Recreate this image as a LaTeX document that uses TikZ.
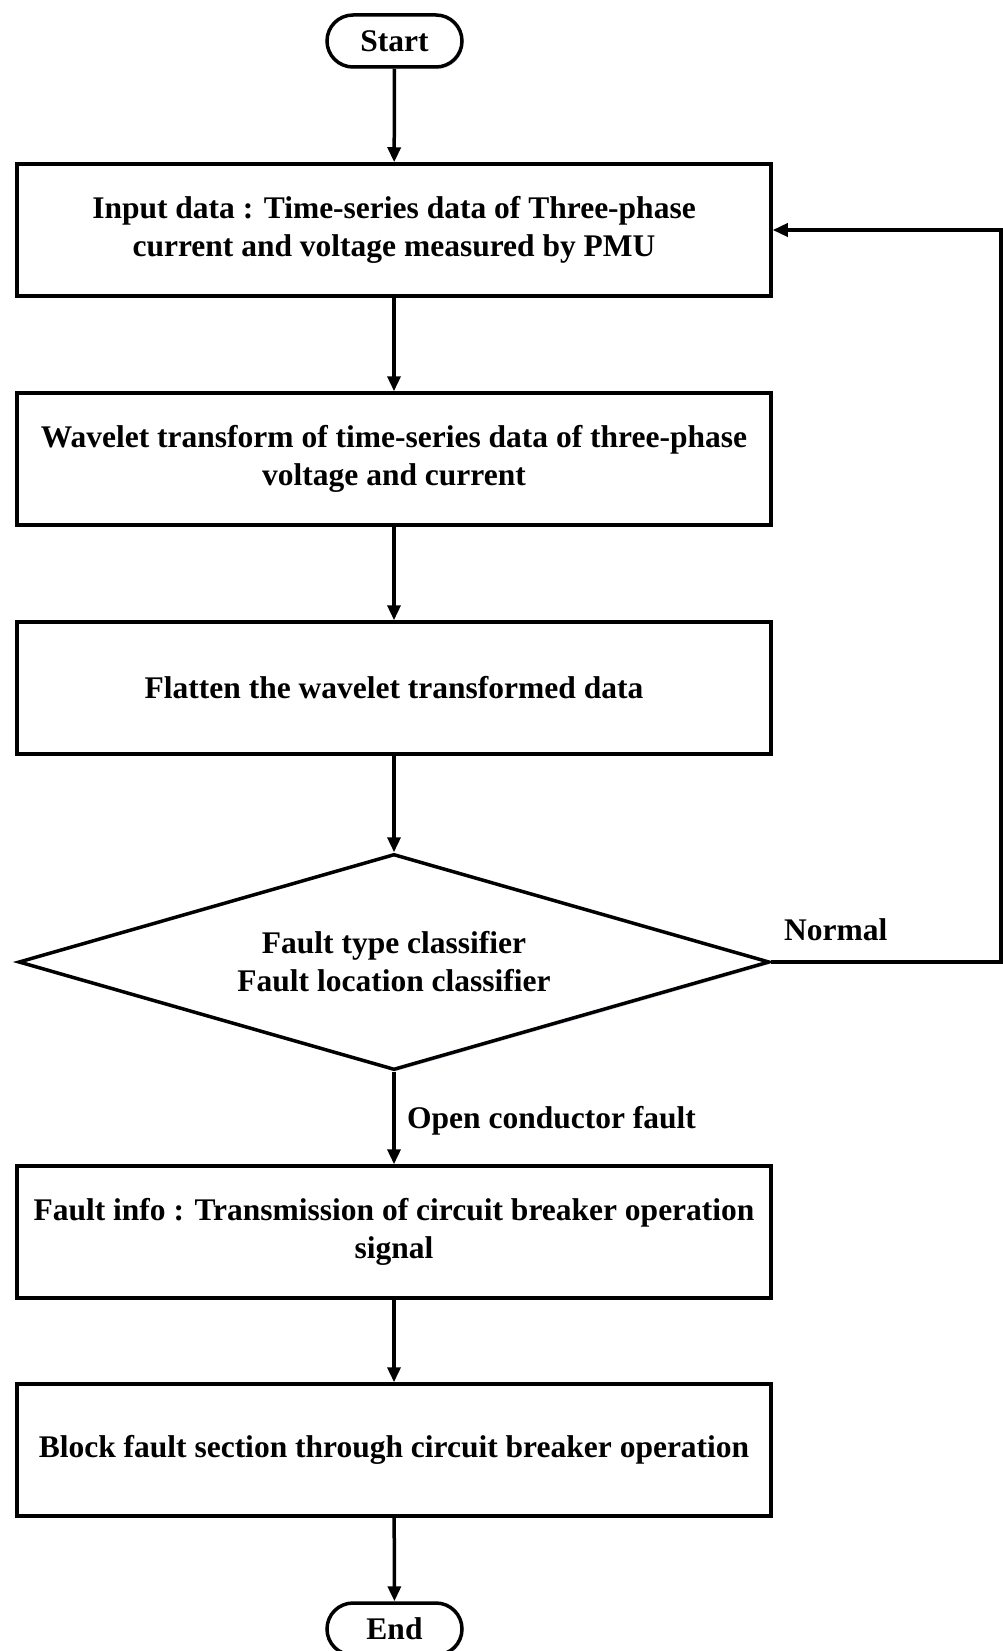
\documentclass[tikz,border=0pt]{standalone}
\usepackage{fontspec}
\setmainfont{Liberation Serif}
\usetikzlibrary{shapes.geometric,shapes.misc,arrows.meta,shadows}
\begin{document}
\begin{tikzpicture}[x=1pt,y=-1pt,
  base/.style={draw, line width=3.5pt, fill=white,
    font=\fontsize{31.5}{38}\selectfont\bfseries, align=center,
    drop shadow={shadow xshift=1.5pt, shadow yshift=-2pt, fill=blue!40!gray, opacity=0.2}},
  procbox/.style={base, rectangle, minimum width=754pt, minimum height=132pt, inner sep=0pt},
  termbox/.style={base, rounded rectangle, minimum width=135pt, minimum height=52pt, inner sep=0pt},
  decbox/.style={base, diamond, shape aspect=3.477, minimum width=751pt, minimum height=216pt, inner sep=0pt},
  conn/.style={line width=3.5pt, -{Triangle[length=15pt,width=13pt]}},
  lbl/.style={font=\fontsize{31.5}{38}\selectfont\bfseries, inner sep=0pt}
]
\useasboundingbox (0,0) rectangle (1003,1651);
\node[termbox] (start) at (394.5,41) {Start};
\node[procbox] (b1) at (394,230) {\raisebox{-3pt}{Input data : Time-series data of Three-phase}\\\raisebox{-3pt}{current and voltage measured by PMU}};
\node[procbox] (b2) at (394,459) {\raisebox{-3pt}{Wavelet transform of time-series data of three-phase}\\\raisebox{-3pt}{voltage and current}};
\node[procbox] (b3) at (394,688) {\raisebox{-2pt}{Flatten the wavelet transformed data}};
\node[decbox] (d) at (394,962) {Fault type classifier\\Fault location classifier};
\node[procbox] (b4) at (394,1232) {\raisebox{-2pt}{Fault info : Transmission of circuit breaker operation}\\\raisebox{-2pt}{signal}};
\node[procbox] (b5) at (394,1450) {\raisebox{-2pt}{Block fault section through circuit breaker operation}};
\node[termbox] (end) at (394.5,1629) {End};
\coordinate (r1) at (1001,962);
\coordinate (r2) at (1001,230);
\draw[conn] (start) -- (b1);
\draw[conn] (b1) -- (b2);
\draw[conn] (b2) -- (b3);
\draw[conn] (b3) -- (d);
\draw[conn] (d) -- (b4);
\draw[conn] (b4) -- (b5);
\draw[conn] (b5) -- (end);
\draw[conn, line join=miter] (d.east) -- (r1) -- (r2) -- (b1.east |- r2);
\node[lbl, anchor=base west] (nl) at (784,940) {Normal};
\node[lbl, anchor=base west] (ol) at (407,1128) {Open conductor fault};
\end{tikzpicture}
\end{document}
